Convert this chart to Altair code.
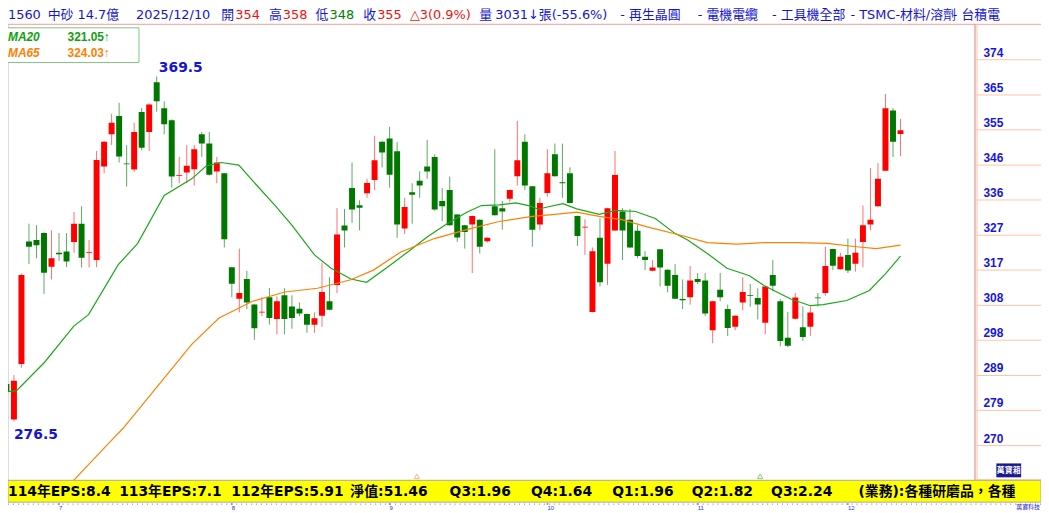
import altair as alt
import pandas as pd

# ---------------- data ----------------
DAY = list(range(1, 121))
OPEN = [286.6, 277.0, 292.0, 325.0, 325.4, 327.3, 318.2, 322.0, 322.3, 324.9,
        329.8, 321.9, 320.0, 345.2, 353.9, 358.8, 346.0, 344.4, 359.9, 354.5,
        367.9, 360.9, 357.7, 342.7, 343.6, 344.5, 353.9, 351.4, 343.9, 343.4,
        318.1, 309.6, 314.9, 308.0, 305.9, 310.0, 304.1, 310.5, 307.5, 306.9,
        305.5, 302.6, 305.0, 308.9, 313.3, 329.3, 339.4, 334.8, 338.0, 341.6,
        351.9, 352.8, 349.3, 328.5, 338.3, 341.4, 345.2, 347.8, 335.9, 338.9,
        332.3, 329.4, 329.6, 330.9, 325.1, 334.5, 334.0, 336.5, 342.6, 351.9,
        339.9, 329.6, 338.1, 348.5, 341.0, 343.4, 331.9, 328.8, 306.0, 326.0,
        319.0, 328.0, 333.1, 330.9, 327.9, 320.9, 317.1, 322.9, 317.4, 316.0,
        309.5, 310.0, 314.9, 314.5, 301.1, 312.0, 306.8, 302.0, 308.6, 310.5,
        309.8, 303.1, 316.0, 308.9, 299.1, 304.2, 301.9, 302.0, 309.9, 311.1,
        323.0, 317.5, 321.4, 319.0, 324.9, 329.6, 334.5, 344.1, 360.3, 354.0]
HIGH = [290.5, 289.0, 316.3, 329.8, 329.4, 327.5, 328.0, 327.3, 327.3, 333.0,
        334.5, 325.4, 349.4, 352.0, 359.4, 362.4, 351.0, 357.0, 361.0, 362.2,
        369.5, 362.8, 357.9, 347.8, 351.0, 351.0, 354.5, 354.5, 347.8, 343.5,
        318.2, 323.1, 317.1, 308.2, 310.0, 312.5, 310.2, 312.4, 310.5, 308.6,
        305.6, 305.9, 319.3, 315.4, 334.0, 333.8, 346.3, 336.1, 341.9, 353.5,
        352.2, 355.9, 351.8, 336.8, 340.7, 343.9, 352.4, 348.5, 339.4, 342.5,
        332.4, 329.5, 332.0, 331.0, 326.1, 349.9, 335.9, 339.0, 357.5, 353.9,
        340.0, 336.8, 349.9, 351.4, 351.4, 345.0, 332.0, 331.0, 323.4, 331.3,
        334.1, 349.4, 334.0, 333.8, 329.4, 322.4, 320.0, 323.0, 317.5, 318.9,
        314.8, 318.4, 316.5, 316.5, 309.0, 316.5, 308.0, 305.1, 315.4, 313.6,
        312.4, 313.1, 320.0, 309.5, 306.0, 311.1, 307.5, 307.5, 311.1, 323.6,
        323.1, 322.0, 325.8, 325.8, 334.7, 344.8, 346.1, 364.8, 361.0, 358.0]
LOW = [282.0, 276.5, 291.0, 318.9, 320.5, 310.9, 314.8, 319.8, 318.1, 322.0,
       318.0, 318.0, 318.1, 343.4, 351.0, 346.3, 339.8, 343.8, 349.6, 349.4,
       360.0, 353.9, 339.6, 340.7, 340.7, 340.1, 347.8, 342.8, 340.7, 323.4,
       310.0, 305.9, 306.8, 298.5, 304.9, 302.6, 300.0, 300.0, 301.5, 304.9,
       300.4, 300.4, 302.0, 306.5, 311.1, 323.4, 330.0, 328.0, 336.8, 338.9,
       345.0, 339.5, 326.0, 327.0, 329.8, 336.8, 341.9, 333.3, 330.5, 329.3,
       324.9, 323.1, 316.5, 321.8, 324.7, 332.0, 328.2, 335.6, 340.1, 338.9,
       323.6, 328.0, 337.1, 342.5, 336.8, 335.3, 323.8, 321.4, 305.9, 312.9,
       313.3, 327.9, 320.0, 323.3, 320.5, 317.3, 317.0, 312.9, 311.3, 309.5,
       306.8, 308.0, 313.5, 304.9, 297.6, 308.9, 299.5, 301.1, 306.5, 307.4,
       304.0, 300.0, 311.6, 296.8, 296.5, 304.0, 298.2, 299.5, 307.5, 310.4,
       317.3, 317.4, 316.5, 316.9, 318.1, 328.0, 334.4, 344.0, 347.8, 348.0]
CLOSE = [284.6, 287.5, 316.0, 323.6, 324.0, 316.6, 320.5, 321.6, 319.6, 329.8,
         320.6, 322.1, 347.0, 351.9, 357.0, 347.9, 345.8, 354.5, 350.3, 361.9,
         362.8, 356.6, 342.5, 342.9, 345.4, 349.9, 351.4, 343.0, 346.3, 325.6,
         313.6, 311.1, 308.6, 301.6, 306.1, 304.4, 308.9, 304.1, 304.4, 305.6,
         302.6, 304.3, 311.4, 306.6, 326.9, 328.0, 333.6, 334.1, 340.8, 346.9,
         349.0, 343.0, 329.6, 334.3, 337.6, 340.1, 343.9, 333.6, 334.5, 329.4,
         326.1, 327.6, 331.9, 323.6, 326.0, 332.1, 333.1, 338.9, 346.9, 340.1,
         328.2, 335.4, 343.4, 342.6, 340.7, 335.4, 326.5, 329.0, 322.4, 314.0,
         334.0, 342.9, 328.0, 323.4, 321.1, 320.0, 318.0, 318.0, 313.1, 309.6,
         309.2, 314.5, 314.1, 305.6, 308.9, 310.0, 301.7, 305.0, 311.4, 310.3,
         308.0, 312.9, 313.1, 298.2, 296.9, 309.9, 299.3, 305.9, 309.7, 318.4,
         318.5, 320.9, 317.2, 322.0, 329.4, 330.9, 341.9, 360.9, 351.9, 355.0]

MA20_DAY = [1.0, 2.35, 6.05, 9.97, 11.93, 15.86, 18.47, 22.0, 25.66, 27.62,
            29.58, 31.93, 33.76, 36.77, 38.99, 42.0, 44.22, 46.84, 48.93, 51.8,
            54.42, 57.03, 59.65, 62.27, 64.22, 66.58, 68.8, 70.5, 71.8, 72.98,
            75.07, 76.9, 79.9, 82.13, 84.75, 87.36, 89.97, 91.67, 94.29, 96.9,
            99.9, 101.87, 105.4, 108.0, 109.7, 112.85, 115.86, 118.08, 120.0]
MA20_VAL = [284.5, 284.8, 292.4, 302.2, 305.3, 318.7, 324.5, 337.4, 341.9, 345.4,
            346.3, 345.6, 341.4, 334.7, 329.4, 321.4, 317.8, 314.9, 314.0, 318.2,
            322.2, 326.3, 329.8, 332.9, 334.7, 334.9, 335.4, 334.7, 333.7, 334.3,
            335.2, 333.8, 332.3, 333.4, 333.1, 331.2, 327.2, 325.4, 321.8, 317.8,
            315.8, 313.1, 309.5, 307.7, 308.0, 309.1, 311.8, 316.5, 321.05]
MA65_DAY = [6.05, 9.97, 15.2, 16.5, 25.66, 29.3, 33.76, 38.08, 42.4, 46.84,
            49.84, 53.5, 57.95, 62.27, 66.58, 71.0, 74.0, 76.9, 79.9, 82.9,
            86.4, 90.76, 94.29, 98.2, 101.87, 106.3, 110.2, 114.16, 116.77, 120.0]
MA65_VAL = [252.3, 260.7, 271.9, 274.6, 297.3, 304.4, 308.9, 311.4, 312.4, 314.7,
            317.3, 322.2, 325.8, 328.2, 330.4, 331.8, 332.3, 332.9, 331.8, 330.9,
            328.9, 326.7, 324.7, 324.3, 324.7, 324.7, 324.5, 323.6, 323.1, 324.03]

TICK_POS = [374.0, 364.5, 355.1, 345.6, 336.2, 326.7, 317.3, 307.8, 298.4, 288.9, 279.5, 270.0]
TICK_LABELS = ["374", "365", "355", "346", "336", "327", "317", "308", "298", "289", "279", "270"]

MONTH_DAY = [8, 31, 52, 73, 93, 113]
MONTH_LABELS = ["7", "8", "9", "10", "11", "12"]

HEADER_TEXT = ["1560", "中砂 14.7億", "2025/12/10", "開", "354", "高", "358", "低", "348",
               "收", "355", "△3(0.9%)", "量", "3031↓張(-55.6%)", "- 再生晶圓", "- 電機電纜",
               "- 工具機全部", "- TSMC-材料/溶劑", "- 台積電"]
FOOTER_TEXT = ["114年EPS:8.4", "113年EPS:7.1", "112年EPS:5.91", "淨值:51.46", "Q3:1.96",
               "Q4:1.64", "Q1:1.96", "Q2:1.82", "Q3:2.24", "(業務):各種研磨品，各種"]
MA_NAMES = ["MA20", "MA65"]
MA_LAST = ["321.05↑", "324.03↑"]
HIGH_LABEL = "369.5"
LOW_LABEL = "276.5"

# ---------------- layout / style (not data) ----------------
BLUE = "#1414D2"
RED = "#F01010"
GREEN = "#008000"
HEADER_X = [0, 40, 129, 215, 229, 263, 277, 310, 324, 358, 372, 405, 475, 491, 617, 695, 770, 849, 952]
HEADER_C = [BLUE, BLUE, BLUE, BLUE, RED, BLUE, RED, BLUE, GREEN, BLUE, RED, RED, BLUE, BLUE,
            BLUE, BLUE, BLUE, BLUE, BLUE]
FOOTER_X = [0, 112, 225, 345, 445, 527, 609, 689, 769, 857]

W, H = 974, 461
xs = alt.Scale(domain=[1.869, 129.19], nice=False, zero=False)
ys = alt.Scale(domain=[260.379, 383.675], nice=False, zero=False)

cdf = pd.DataFrame({"day": DAY, "open": OPEN, "high": HIGH, "low": LOW, "close": CLOSE})
up = "datum.close >= datum.open"

wicks = alt.Chart(cdf).mark_rule(strokeWidth=1, clip=True).encode(
    x=alt.X("day:Q", scale=xs, axis=None),
    y=alt.Y("low:Q", scale=ys, axis=None),
    y2="high:Q",
    color=alt.condition(up, alt.value("#FF7070"), alt.value("#60A860")),
)
bodies = alt.Chart(cdf).mark_bar(size=6, clip=True).encode(
    x=alt.X("day:Q", scale=xs, axis=None),
    y=alt.Y("open:Q", scale=ys, axis=None),
    y2="close:Q",
    color=alt.condition(up, alt.value("#FF0000"), alt.value("#007800")),
)

ma20 = alt.Chart(pd.DataFrame({"d": MA20_DAY, "v": MA20_VAL})).mark_line(
    color="#1AA81A", strokeWidth=1.2, clip=True).encode(
    x=alt.X("d:Q", scale=xs, axis=None), y=alt.Y("v:Q", scale=ys, axis=None))
ma65 = alt.Chart(pd.DataFrame({"d": MA65_DAY, "v": MA65_VAL})).mark_line(
    color="#FF8000", strokeWidth=1.2, clip=True).encode(
    x=alt.X("d:Q", scale=xs, axis=None), y=alt.Y("v:Q", scale=ys, axis=None))

one = pd.DataFrame({"k": [0]})

def box(x, x2, y, y2, fill, stroke=None, sw=1):
    kw = dict(fill=fill)
    if stroke:
        kw.update(stroke=stroke, strokeWidth=sw)
    return alt.Chart(one).mark_rect(**kw).encode(
        x=alt.value(x), x2=alt.value(x2), y=alt.value(y), y2=alt.value(y2))

def hline(x, x2, y, color, dash=None):
    kw = dict(color=color, strokeWidth=1)
    if dash:
        kw["strokeDash"] = dash
    return alt.Chart(one).mark_rule(**kw).encode(
        x=alt.value(x), x2=alt.value(x2), y=alt.value(y))

def vline(x, y, y2, color):
    return alt.Chart(one).mark_rule(color=color, strokeWidth=1).encode(
        x=alt.value(x), y=alt.value(y), y2=alt.value(y2))

def label(text, x, y, color, size, weight="normal", font="DejaVu Sans, Noto Sans CJK TC",
          align="left", style="normal"):
    return alt.Chart(pd.DataFrame({"t": [text]})).mark_text(
        align=align, baseline="alphabetic", fontSize=size, fontWeight=weight,
        font=font, color=color, fontStyle=style).encode(
        text="t:N", x=alt.value(x), y=alt.value(y))

# header
hdf = pd.DataFrame({"t": HEADER_TEXT, "px": HEADER_X, "c": HEADER_C})
header = alt.Chart(hdf).mark_text(
    align="left", baseline="alphabetic", fontSize=13,
    font="DejaVu Sans, Noto Sans CJK TC").encode(
    text="t:N", x=alt.X("px:Q", scale=None, axis=None), y=alt.value(-5),
    color=alt.Color("c:N", scale=None))

# right price panel
tdf = pd.DataFrame({"pos": TICK_POS, "lab": TICK_LABELS})
grid = alt.Chart(tdf).mark_rule(color="#FFC4A8", strokeWidth=1).encode(
    y=alt.Y("pos:Q", scale=ys, axis=None), x=alt.value(976), x2=alt.value(1041))
ticklab = alt.Chart(tdf).mark_text(
    align="left", baseline="alphabetic", dy=-3, fontSize=12, fontWeight="bold",
    font="Liberation Sans", color="#1414E0").encode(
    y=alt.Y("pos:Q", scale=ys, axis=None), x=alt.value(983), text="lab:N")

# footer bar
fdf = pd.DataFrame({"t": FOOTER_TEXT, "px": FOOTER_X})
footer_bg = box(0, 1041, 460, 482, "#FFFF00", "#A8A8A8")
footer = alt.Chart(fdf).mark_text(
    align="left", baseline="alphabetic", fontSize=14, fontWeight="bold",
    font="DejaVu Sans, Noto Sans CJK TC", color="#000000").encode(
    text="t:N", x=alt.X("px:Q", scale=None, axis=None), y=alt.value(476))

mdf = pd.DataFrame({"d": MONTH_DAY, "m": MONTH_LABELS})
months = alt.Chart(mdf).mark_text(
    align="left", baseline="alphabetic", fontSize=6, color="#3030D0").encode(
    x=alt.X("d:Q", scale=xs, axis=None), y=alt.value(490), text="m:N")
mticks = alt.Chart(mdf).mark_point(shape="circle", size=4, filled=True, color="#6060E0").encode(
    x=alt.X("d:Q", scale=xs, axis=None), y=alt.value(484))

tri = alt.Chart(pd.DataFrame({"x": [412, 758], "c": ["#FF9040", "#40C040"]})).mark_point(
    shape="triangle-up", size=28, filled=False, strokeWidth=1).encode(
    x=alt.X("x:Q", scale=None, axis=None), y=alt.value(456), color=alt.Color("c:N", scale=None))

layers = [
    wicks, bodies, ma20, ma65,
    # borders
    hline(0, 1041, 0.5, "#F4A8A0"),
    vline(974.5, 0, 460, "#F08C8C"),
    vline(976.5, 0, 460, "#FFC4A8"),
    hline(976, 1041, 459.5, "#FFC4A8"),
    grid, ticklab,
    header,
    # legend box
    box(-6, 132, 4, 39, "#FFFFFF", "#80C480"),
    label(MA_NAMES[0], 0, 17, "#10A010", 12, "bold", "Liberation Sans", style="italic"),
    label(MA_LAST[0], 60, 17, "#10A010", 12, "bold", "Liberation Sans, DejaVu Sans"),
    label(MA_NAMES[1], 0, 33, "#FF7F00", 12, "bold", "Liberation Sans", style="italic"),
    label(MA_LAST[1], 60, 33, "#FF7F00", 12, "bold", "Liberation Sans, DejaVu Sans"),
    label(HIGH_LABEL, 152, 49, "#1414D2", 14, "bold"),
    label(LOW_LABEL, 6, 418, "#1414D2", 14, "bold"),
    tri,
    footer_bg, footer,
    hline(0, 1041, 484, "#7070E0", [1, 4]),
    mticks, months,
    box(996, 1021, 443, 457, "#1A1A8C"),
    label("萬寶箱", 1008.5, 453, "#FFFFFF", 8, "bold", align="center"),
    label("萬寶科技", 1028, 489, "#3030D0", 6, align="center"),
]

chart = alt.layer(*layers).properties(
    width=W, height=H,
    padding={"left": 0, "top": 14, "right": 67, "bottom": 30},
    autosize=alt.AutoSizeParams(type="none"),
).configure_view(stroke=None).configure(background="#FFFFFF")

chart.save("out.html", embed_options={"renderer": "svg", "actions": False})
